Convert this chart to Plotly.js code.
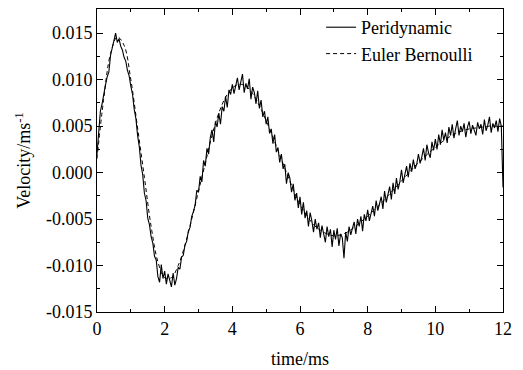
<!DOCTYPE html>
<html>
<head>
<meta charset="utf-8">
<script src="https://cdn.plot.ly/plotly-3.0.1.min.js"></script>
<style>html,body{margin:0;padding:0;background:#fff;}#chart{width:523px;height:370px;}</style>
</head>
<body>
<div id="chart"></div>
<script>
// Euler Bernoulli (smooth), sampled every 0.2 ms from 0 to 12
const ebStep = 0.2;
const ebValues = [
  0.0015, 0.0080, 0.0128, 0.0146, 0.0137, 0.0100, 0.0048, -0.0005, -0.0058, -0.0096,
  -0.0113, -0.0113, -0.0100, -0.0078, -0.0050, -0.0020, 0.0010, 0.0040, 0.0064, 0.0081,
  0.0091, 0.0095, 0.0093, 0.0085, 0.0072, 0.0056, 0.0038, 0.0019, 0.0000, -0.0018,
  -0.0034, -0.0046, -0.0056, -0.0062, -0.0066, -0.0068, -0.0067, -0.0064, -0.0059, -0.0053,
  -0.0047, -0.0040, -0.0033, -0.0025, -0.0017, -0.0009, -0.0001, 0.0007, 0.0014, 0.0021,
  0.0027, 0.0033, 0.0038, 0.0042, 0.0045, 0.0047, 0.0048, 0.0049, 0.0050, 0.0050,
  0.0050
];
// Peridynamic (noisy), sampled every 0.05 ms from 0 to 12 (one row per ms)
const pdStep = 0.05;
const pdValues = [
  0.0020, 0.0045, 0.0066, 0.0074, 0.0086, 0.0094, 0.0103, 0.0108, 0.0126, 0.0134, 0.0143, 0.0150, 0.0140, 0.0144, 0.0136, 0.0132, 0.0124, 0.0120, 0.0110, 0.0104,
  0.0093, 0.0084, 0.0068, 0.0058, 0.0040, 0.0028, 0.0008, -0.0002, -0.0022, -0.0030, -0.0049, -0.0056, -0.0069, -0.0076, -0.0090, -0.0094, -0.0112, -0.0118, -0.0099, -0.0114,
  -0.0106, -0.0120, -0.0109, -0.0116, -0.0123, -0.0108, -0.0121, -0.0114, -0.0102, -0.0104, -0.0091, -0.0089, -0.0078, -0.0074, -0.0063, -0.0059, -0.0047, -0.0042, -0.0035, -0.0019,
  -0.0021, -0.0004, -0.0010, 0.0013, 0.0007, 0.0026, 0.0020, 0.0038, 0.0046, 0.0033, 0.0055, 0.0049, 0.0064, 0.0052, 0.0071, 0.0066, 0.0082, 0.0070, 0.0089, 0.0084,
  0.0095, 0.0085, 0.0092, 0.0102, 0.0089, 0.0097, 0.0106, 0.0086, 0.0096, 0.0090, 0.0101, 0.0079, 0.0092, 0.0086, 0.0074, 0.0088, 0.0069, 0.0078, 0.0060, 0.0066,
  0.0052, 0.0060, 0.0042, 0.0047, 0.0031, 0.0041, 0.0022, 0.0027, 0.0011, 0.0020, 0.0004, 0.0009, -0.0012, 0.0000, -0.0006, -0.0021, -0.0012, -0.0030, -0.0022, -0.0038,
  -0.0026, -0.0045, -0.0032, -0.0049, -0.0041, -0.0058, -0.0043, -0.0052, -0.0064, -0.0050, -0.0061, -0.0054, -0.0070, -0.0057, -0.0065, -0.0075, -0.0058, -0.0069, -0.0061, -0.0080,
  -0.0062, -0.0072, -0.0060, -0.0079, -0.0066, -0.0070, -0.0092, -0.0064, -0.0074, -0.0058, -0.0067, -0.0061, -0.0053, -0.0066, -0.0050, -0.0058, -0.0047, -0.0063, -0.0045, -0.0052,
  -0.0040, -0.0052, -0.0043, -0.0036, -0.0047, -0.0030, -0.0041, -0.0034, -0.0026, -0.0039, -0.0020, -0.0032, -0.0024, -0.0015, -0.0029, -0.0011, -0.0023, -0.0006, -0.0018, -0.0010,
  0.0003, -0.0011, -0.0002, 0.0007, -0.0005, 0.0010, 0.0001, 0.0014, 0.0004, 0.0009, 0.0020, 0.0010, 0.0017, 0.0026, 0.0013, 0.0030, 0.0021, 0.0016, 0.0033, 0.0024,
  0.0036, 0.0025, 0.0041, 0.0030, 0.0046, 0.0035, 0.0043, 0.0032, 0.0049, 0.0040, 0.0052, 0.0037, 0.0047, 0.0056, 0.0040, 0.0050, 0.0044, 0.0053, 0.0038, 0.0049,
  0.0055, 0.0042, 0.0051, 0.0046, 0.0040, 0.0054, 0.0047, 0.0052, 0.0041, 0.0057, 0.0045, 0.0051, 0.0060, 0.0043, 0.0053, 0.0048, 0.0056, 0.0044, 0.0058, 0.0050,
  -0.0016
];
const xTickVals = [0, 2, 4, 6, 8, 10, 12];
const xTickText = ['0', '2', '4', '6', '8', '10', '12'];
const yTickVals = [-0.015, -0.010, -0.005, 0.000, 0.005, 0.010, 0.015];
const yTickText = ['-0.015', '-0.010', '-0.005', '0.000', '0.005', '0.010', '0.015'];

const ebTime = ebValues.map((_, i) => +(i * ebStep).toFixed(3));
const pdTime = pdValues.map((_, i) => +(i * pdStep).toFixed(3));

const font = 'Times New Roman, Liberation Serif, DejaVu Serif, serif';
const traces = [
  {x: pdTime, y: pdValues, type: 'scatter', mode: 'lines', name: 'Peridynamic',
   line: {color: '#000', width: 1.1}},
  {x: ebTime, y: ebValues, type: 'scatter', mode: 'lines', name: 'Euler Bernoulli',
   line: {color: '#000', width: 1, dash: '4px,3px', shape: 'spline'}}
];
const axisCommon = {
  showline: true, linecolor: '#000', linewidth: 1, mirror: 'allticks',
  ticks: 'inside', ticklen: 6, tickwidth: 1, tickcolor: '#000',
  showgrid: false, zeroline: false,
  tickfont: {family: font, size: 18, color: '#000'}
};
const layout = {
  width: 523, height: 370,
  margin: {l: 97, r: 20, t: 9, b: 58},
  paper_bgcolor: '#fff', plot_bgcolor: '#fff',
  font: {family: font, color: '#000'},
  showlegend: true,
  legend: {x: 0.552, y: 1.0, xanchor: 'left', yanchor: 'top', bgcolor: 'rgba(0,0,0,0)',
           font: {family: font, size: 18, color: '#000'}, tracegroupgap: 0},
  xaxis: Object.assign({}, axisCommon, {
    range: [0, 12], tickvals: xTickVals, ticktext: xTickText,
    minor: {dtick: 1, tick0: 0, ticks: 'inside', ticklen: 3, tickcolor: '#000', showgrid: false},
    title: {text: 'time/ms', font: {family: font, size: 18, color: '#000'}, standoff: 14}
  }),
  yaxis: Object.assign({}, axisCommon, {
    range: [-0.015, 0.0176], tickvals: yTickVals, ticktext: yTickText,
    minor: {dtick: 0.0025, tick0: 0, ticks: 'inside', ticklen: 3, tickcolor: '#000', showgrid: false},
    title: {text: 'Velocity/ms<sup>-1</sup>', font: {family: font, size: 18, color: '#000'}, standoff: 10}
  })
};
Plotly.newPlot('chart', traces, layout, {staticPlot: true, displayModeBar: false});
</script>
</body>
</html>
